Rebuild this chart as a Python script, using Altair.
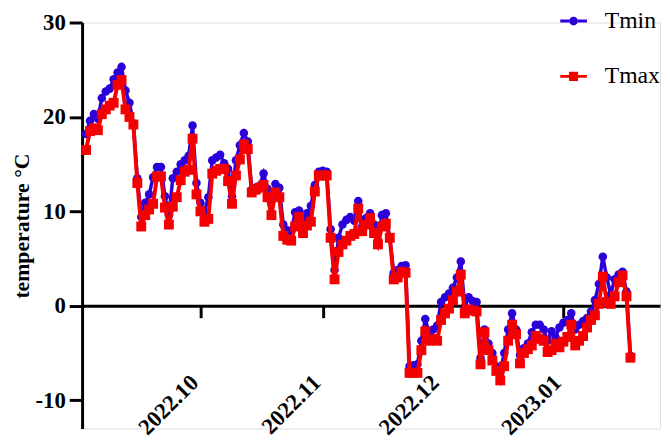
import altair as alt
import pandas as pd

start_date = "2022-09-02"

tmin = [
    18.2, 19.6, 20.3, 19.8, 22.0, 22.7, 23.0, 24.0, 24.7, 25.3,
    22.8, 21.5, 19.3, 13.5, 9.4, 10.9, 11.8, 13.6, 14.7, 14.7,
    11.6, 9.6, 13.5, 14.2, 15.0, 15.4, 15.9, 19.1, 13.0, 10.9,
    9.9, 11.5, 15.4, 15.7, 16.0, 15.1, 14.5, 11.6, 15.4, 17.0,
    18.3, 17.4, 12.3, 12.5, 12.7, 14.0, 12.4, 11.3, 12.9, 12.5,
    8.6, 8.0, 7.9, 9.9, 10.1, 8.6, 9.8, 10.6, 12.8, 14.2,
    14.3, 14.2, 8.1, 3.8, 7.2, 8.6, 9.1, 9.4, 9.0, 11.1,
    8.4, 9.3, 9.8, 8.6, 6.9, 9.6, 9.8, 7.2, 3.5, 3.8,
    4.2, 4.3, -6.4, -6.3, -6.2, -3.7, -1.4, -3.0, -2.5, -2.1,
    0.4, 0.9, 1.3, 1.9, 3.0, 4.7, -0.1, 0.9, 0.5, 0.4,
    -5.5, -2.5, -4.0, -5.0, -6.4, -7.1, -5.0, -2.5, -0.8, -2.5,
    -5.2, -4.5, -4.0, -2.8, -2.0, -2.0, -2.5, -3.7, -2.7, -3.3,
    -2.3, -1.8, -1.5, -0.8, -2.5, -2.0, -1.6, -1.3, -0.6, 0.6,
    2.3, 5.2, 3.0, 1.2, 2.8, 3.3, 3.6, 1.5, -5.3,
]

tmax = [
    16.5, 18.5, 18.8, 18.6, 20.3, 20.8, 21.2, 21.5, 23.4, 23.9,
    20.8, 20.0, 19.2, 13.0, 8.4, 9.6, 10.2, 10.8, 13.7, 13.7,
    10.4, 8.6, 10.5, 11.5, 13.3, 14.2, 14.4, 17.7, 11.8, 10.0,
    8.9, 9.2, 14.0, 14.3, 14.5, 14.5, 13.2, 10.8, 13.8, 15.5,
    17.1, 16.6, 12.0, 12.3, 12.5, 12.8, 11.5, 9.6, 12.0, 11.5,
    7.4, 7.0, 6.9, 8.4, 9.4, 7.7, 8.5, 8.9, 12.1, 13.8,
    13.8, 13.8, 7.2, 2.8, 5.7, 6.5, 6.9, 7.4, 7.6, 10.3,
    7.9, 8.6, 9.3, 7.7, 6.5, 8.4, 8.7, 7.2, 2.8, 3.0,
    3.6, 3.5, -7.1, -7.1, -7.1, -4.7, -2.7, -3.7, -3.5, -3.7,
    -1.5, -0.8, -0.3, 0.6, 1.5, 3.3, -0.8, -0.4, -0.5, -0.6,
    -6.2, -2.8, -4.7, -5.8, -6.9, -7.9, -6.4, -3.7, -2.0, -3.0,
    -6.1, -5.0, -4.6, -4.2, -3.2, -3.5, -3.7, -4.9, -4.7, -4.0,
    -4.4, -3.8, -3.3, -2.0, -4.2, -3.7, -3.2, -2.3, -1.5, -1.0,
    0.2, 3.1, 0.4, 0.2, 1.0, 2.5, 3.2, 1.0, -5.5,
]

series_names = ["Tmin", "Tmax"]
series_colors = ["#2c00d8", "#f50000"]
month_ticks = [(2022, 10), (2022, 11), (2022, 12), (2023, 1)]
y_ticks = [-10, 0, 10, 20, 30]

dates = pd.date_range(start_date, periods=len(tmin), freq="D").strftime("%Y-%m-%dT00:00:00").tolist()
df = pd.DataFrame({
    "date": dates + dates,
    "value": tmin + tmax,
    "series": ["Tmin"] * len(tmin) + ["Tmax"] * len(tmax),
})

W, H = 585, 411
Y_MIN, Y_MAX = -13, 30
zero_from_top = H * (Y_MAX - 0) / (Y_MAX - Y_MIN)

FONT = "Liberation Serif"

x_scale = alt.Scale(
    domain=[alt.DateTime(year=2022, month=9, date=1),
            alt.DateTime(year=2023, month=1, date=25, hours=12)],
    nice=False,
)
y_scale = alt.Scale(domain=[Y_MIN, Y_MAX], nice=False, zero=False)

x_enc = alt.X(
    "date:T",
    scale=x_scale,
    axis=alt.Axis(
        values=[alt.DateTime(year=y, month=m, date=1) for y, m in month_ticks],
        format="%Y.%m",
        title=None,
        offset=-(H - zero_from_top),
        domainColor="black", domainWidth=3,
        tickColor="black", tickWidth=3, tickSize=12,
        labelAngle=315, labelAlign="right", labelBaseline="top",
        labelPadding=54, labelOffset=-14,
        labelFont=FONT, labelFontSize=23, labelFontWeight="bold", labelColor="black",
        grid=False,
    ),
)
y_enc = alt.Y(
    "value:Q",
    scale=y_scale,
    axis=alt.Axis(
        values=y_ticks,
        labelExpr="datum.value + ''",
        title="temperature °C",
        titleFont=FONT, titleFontSize=22, titleFontWeight="bold", titleColor="black",
        titlePadding=2,
        domainColor="black", domainWidth=3,
        tickColor="black", tickWidth=3, tickSize=13,
        labelFont=FONT, labelFontSize=23, labelFontWeight="bold", labelColor="black",
        labelPadding=4,
        grid=False,
    ),
)

base = alt.Chart(df)

def series_layers(name, color, shape, size, line_w):
    sub = base.transform_filter(alt.datum.series == name)
    line = sub.mark_line(color=color, strokeWidth=line_w).encode(x=x_enc, y=y_enc)
    pts = sub.mark_point(shape=shape, filled=True, color=color, size=size, opacity=1).encode(x=x_enc, y=y_enc)
    return [line, pts]

circle_path = ("M-1,-0.11H-0.33V0.11H-1Z M0.33,-0.11H1V0.11H0.33Z "
               "M0.33,0A0.33,0.33 0 1 1 -0.33,0A0.33,0.33 0 1 1 0.33,0Z")
square_path = ("M-1,-0.11H-0.34V0.11H-1Z M0.34,-0.11H1V0.11H0.34Z "
               "M-0.34,-0.34H0.34V0.34H-0.34Z")

legend_props = dict(
    title=None, orient="none", legendX=484, legendY=-15,
    symbolSize=729, symbolStrokeWidth=0, symbolOpacity=1,
    labelFont=FONT, labelFontSize=24, labelColor="black", labelOffset=18,
    rowPadding=30, padding=0, labelLimit=0,
)

legend_layer = base.transform_filter("false").mark_point(filled=True, opacity=1).encode(
    x=x_enc, y=y_enc,
    color=alt.Color("series:N", scale=alt.Scale(domain=series_names, range=series_colors),
                    legend=alt.Legend(**legend_props)),
    shape=alt.Shape("series:N", scale=alt.Scale(domain=series_names, range=[circle_path, square_path]),
                    legend=alt.Legend(**legend_props)),
)

layers = (series_layers("Tmin", series_colors[0], "circle", 75, 3.5)
          + series_layers("Tmax", series_colors[1], "square", 100, 4)
          + [legend_layer])

chart = alt.layer(*layers).properties(
    width=W, height=H,
    autosize=alt.AutoSizeParams(type="none"),
    padding={"left": 75, "top": 12, "right": 2, "bottom": 18},
).configure_view(stroke=None).configure(background="white")

chart.save("out.html", embed_options={"renderer": "svg", "actions": False})
